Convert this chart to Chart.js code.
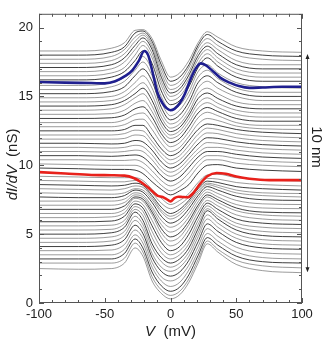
<!DOCTYPE html>
<html>
<head>
<meta charset="utf-8">
<script src="https://cdn.jsdelivr.net/npm/chart.js@4.4.1/dist/chart.umd.min.js"></script>
<style>
  html, body { margin: 0; padding: 0; background: #fff; }
  #wrap { width: 327px; height: 346px; }
</style>
</head>
<body>
<div id="wrap"><canvas id="didv" width="327" height="346"></canvas></div>
<script>
const grayV = [-100, -70, -45, -35, -27, -21, -14, -7, 0, 7, 14, 21, 28, 36, 50, 70, 100];

// grey spectra, top to bottom (nS)
const graySpectra = [
  [18.3,18.3,18.5,18.9,19.8,19.85,19.2,17.6,16.4,16.7,17.6,18.9,19.7,19.3,18.6,18.3,18.2],
  [18.0,18.0,18.2,18.6,19.6,19.75,19.0,17.3,16.1,16.4,17.3,18.7,19.5,19.0,18.3,18.0,17.9],
  [17.7,17.7,17.9,18.4,19.3,19.6,18.8,17.0,15.8,16.1,17.1,18.5,19.2,18.7,18.0,17.7,17.6],
  [17.4,17.4,17.6,18.1,19.0,19.45,18.6,16.7,15.5,15.8,16.8,18.2,18.9,18.4,17.6,17.3,17.3],
  [17.1,17.1,17.3,17.8,18.7,19.25,18.4,16.4,15.25,15.55,16.55,17.95,18.65,18.1,17.3,17.0,17.0],
  [16.8,16.8,17.0,17.5,18.4,19.0,18.1,16.1,15.0,15.3,16.3,17.7,18.4,17.8,17.0,16.7,16.7],
  [16.5,16.5,16.7,17.1,18.0,18.7,17.8,15.8,14.7,15.0,16.0,17.4,18.1,17.5,16.7,16.4,16.4],
  [16.2,16.2,16.4,16.8,17.6,18.3,17.4,15.4,14.4,14.7,15.7,17.1,17.8,17.2,16.4,16.1,16.1],
  [15.8,15.8,16.0,16.4,17.2,17.9,16.9,15.0,14.0,14.35,15.35,16.8,17.3,16.7,16.0,15.7,15.6],
  [15.5,15.5,15.7,16.1,16.9,17.5,16.5,14.6,13.6,14.0,15.0,16.4,16.9,16.3,15.6,15.3,15.3],
  [15.2,15.2,15.35,15.7,16.5,17.0,16.1,14.2,13.3,13.65,14.6,16.0,16.5,16.0,15.3,15.0,15.0],
  [14.9,14.9,15.0,15.35,16.0,16.5,15.6,13.85,13.0,13.3,14.25,15.6,16.1,15.6,15.0,14.7,14.7],
  [14.6,14.6,14.7,15.0,15.6,16.0,15.1,13.5,12.7,13.0,13.9,15.2,15.6,15.2,14.6,14.4,14.4],
  [14.3,14.3,14.4,14.7,15.2,15.6,14.7,13.2,12.45,12.75,13.65,14.85,15.25,14.85,14.3,14.1,14.1],
  [14.0,14.0,14.1,14.4,14.9,15.2,14.3,12.9,12.2,12.5,13.4,14.5,14.9,14.5,14.0,13.8,13.8],
  [13.7,13.7,13.75,14.0,14.5,14.7,13.9,12.6,11.95,12.25,13.1,14.15,14.55,14.2,13.7,13.5,13.5],
  [13.4,13.4,13.45,13.65,14.1,14.25,13.5,12.3,11.65,11.95,12.8,13.8,14.2,13.9,13.4,13.2,13.2],
  [13.1,13.1,13.1,13.3,13.7,13.8,13.1,12.0,11.35,11.65,12.45,13.45,13.85,13.6,13.1,12.9,12.9],
  [12.8,12.8,12.8,12.95,13.3,13.35,12.6,11.6,11.0,11.3,12.1,13.0,13.4,13.25,12.85,12.65,12.6],
  [12.5,12.5,12.5,12.6,12.9,12.9,12.1,11.2,10.7,11.0,11.8,12.6,13.0,12.9,12.6,12.4,12.3],
  [12.2,12.2,12.2,12.3,12.55,12.5,11.75,10.9,10.4,10.7,11.45,12.25,12.7,12.6,12.3,12.1,12.0],
  [11.9,11.9,11.9,11.95,12.2,12.15,11.45,10.6,10.1,10.4,11.1,11.9,12.35,12.3,12.0,11.8,11.7],
  [11.6,11.6,11.55,11.6,11.8,11.7,11.1,10.25,9.8,10.1,10.8,11.55,12.0,11.95,11.7,11.5,11.4],
  [11.3,11.3,11.25,11.3,11.45,11.35,10.75,9.9,9.5,9.8,10.5,11.2,11.65,11.6,11.4,11.2,11.1],
  [11.0,11.0,10.95,11.0,11.1,11.0,10.4,9.6,9.2,9.5,10.2,10.9,11.3,11.3,11.1,10.9,10.8],
  [10.7,10.7,10.65,10.7,10.75,10.6,10.0,9.25,8.85,9.15,9.85,10.6,11.0,11.0,10.8,10.6,10.5],
  [10.4,10.4,10.35,10.35,10.4,10.2,9.6,8.9,8.5,8.8,9.45,10.25,10.7,10.7,10.5,10.3,10.2],
  [10.1,10.05,10.0,10.0,10.0,9.8,9.2,8.55,8.15,8.45,9.05,9.9,10.4,10.4,10.15,10.0,9.9],
  [9.8,9.75,9.7,9.7,9.65,9.4,8.8,8.25,7.85,8.15,8.6,9.45,10.0,10.05,9.8,9.65,9.55],
  [9.2,9.15,9.1,9.1,9.1,8.9,8.25,7.6,7.15,7.45,7.95,8.75,9.3,9.35,9.1,8.95,8.85],
  [8.9,8.85,8.8,8.8,8.9,8.7,8.0,7.25,6.85,7.15,7.7,8.5,9.05,9.0,8.75,8.6,8.5],
  [8.6,8.55,8.5,8.55,8.7,8.55,7.8,6.95,6.5,6.8,7.45,8.3,8.85,8.75,8.45,8.3,8.2],
  [8.3,8.25,8.2,8.3,8.5,8.4,7.65,6.75,6.3,6.6,7.3,8.15,8.7,8.55,8.2,8.0,7.95],
  [8.0,7.95,7.9,8.0,8.3,8.2,7.5,6.6,6.1,6.4,7.1,8.0,8.6,8.4,8.0,7.8,7.7],
  [7.7,7.65,7.65,7.8,8.2,8.05,7.3,6.3,5.8,6.1,6.85,7.8,8.45,8.2,7.75,7.5,7.45],
  [7.4,7.4,7.4,7.55,8.0,7.85,7.0,6.0,5.5,5.8,6.55,7.6,8.25,7.95,7.45,7.2,7.15],
  [7.1,7.1,7.1,7.3,7.85,7.7,6.8,5.7,5.15,5.45,6.25,7.35,8.05,7.7,7.15,6.9,6.85],
  [6.8,6.8,6.8,7.05,7.7,7.55,6.6,5.4,4.8,5.1,5.95,7.1,7.85,7.5,6.9,6.6,6.55],
  [6.5,6.5,6.5,6.8,7.6,7.4,6.4,5.1,4.5,4.8,5.7,6.9,7.7,7.3,6.7,6.4,6.3],
  [6.2,6.2,6.25,6.55,7.4,7.15,6.0,4.75,4.15,4.45,5.35,6.6,7.45,7.05,6.4,6.1,6.0],
  [5.9,5.9,5.95,6.3,7.2,6.9,5.6,4.4,3.8,4.1,5.0,6.3,7.25,6.8,6.1,5.8,5.7],
  [5.6,5.6,5.65,6.0,7.0,6.65,5.2,4.0,3.5,3.8,4.6,6.0,7.05,6.55,5.8,5.5,5.4],
  [5.3,5.3,5.35,5.75,6.8,6.35,4.75,3.65,3.2,3.5,4.3,5.7,6.85,6.3,5.55,5.2,5.1],
  [5.0,5.0,5.1,5.5,6.6,6.0,4.3,3.3,2.9,3.2,4.0,5.4,6.7,6.1,5.3,4.9,4.8],
  [4.7,4.7,4.8,5.2,6.3,5.7,4.0,3.0,2.6,2.9,3.7,5.1,6.4,5.8,5.0,4.6,4.5],
  [4.4,4.4,4.5,4.9,6.0,5.4,3.6,2.6,2.3,2.6,3.4,4.8,6.1,5.5,4.7,4.3,4.2],
  [4.1,4.1,4.2,4.6,5.65,5.05,3.3,2.3,1.95,2.25,3.1,4.45,5.75,5.2,4.4,4.0,3.9],
  [3.8,3.8,3.85,4.25,5.3,4.7,2.95,1.9,1.6,1.9,2.75,4.1,5.4,4.85,4.05,3.65,3.55],
  [3.5,3.5,3.5,3.9,4.95,4.35,2.6,1.6,1.2,1.5,2.4,3.75,5.05,4.5,3.7,3.3,3.2],
  [3.2,3.2,3.2,3.6,4.65,4.0,2.25,1.25,0.85,1.15,2.05,3.45,4.75,4.2,3.4,3.0,2.9],
  [2.9,2.9,2.9,3.25,4.35,3.7,1.9,0.95,0.55,0.85,1.75,3.15,4.5,3.9,3.1,2.7,2.55],
  [2.5,2.45,2.5,2.9,4.0,3.4,1.6,0.7,0.3,0.6,1.5,2.9,4.3,3.7,2.8,2.35,2.2]
];

// highlighted spectra
const blueV = [-100,-80,-60,-50,-42,-35,-29,-24,-20,-17,-13,-10,-6,-3,0,3,7,11,15,19,23,27,32,38,45,52,60,70,85,100];
const blueG = [16.05,16.0,15.97,15.95,16.1,16.45,16.9,17.6,18.3,18.0,16.5,15.3,14.5,14.15,14.0,14.1,14.5,15.2,16.2,17.0,17.4,17.25,16.85,16.35,16.0,15.75,15.62,15.65,15.7,15.7];

const redV = [-100,-80,-60,-45,-35,-28,-22,-16,-10,-6,-3,0,3,6,9,13,17,22,28,35,42,50,60,75,100];
const redG = [9.5,9.4,9.3,9.28,9.25,9.08,8.75,8.3,7.8,7.7,7.55,7.38,7.62,7.72,7.7,7.68,7.95,8.6,9.2,9.44,9.38,9.18,9.02,8.92,8.92];

const xTicks = [-100, -50, 0, 50, 100];
const yTicks = [0, 5, 10, 15, 20];
const scaleBar = [18.0, 2.3]; // nS span of the "10 nm" arrow
const scaleBarLabel = '10 nm';

const pts = (xs, ys) => xs.map((v, i) => ({ x: v, y: ys[i] }));

const datasets = [
  { data: pts(blueV, blueG), borderColor: '#1f1f8f', borderWidth: 2.6 },
  { data: pts(redV, redG), borderColor: '#e8211b', borderWidth: 2.6 }
];
graySpectra.forEach((row, i) => {
  const dark = i % 3 === 1;
  datasets.push({
    data: pts(grayV, row),
    borderColor: dark ? 'rgba(30,30,30,0.85)' : 'rgba(95,95,95,0.7)',
    borderWidth: dark ? 1.0 : 0.9
  });
});
datasets.forEach(d => {
  d.showLine = true;
  d.pointRadius = 0;
  d.cubicInterpolationMode = 'monotone';
  d.fill = false;
});

const FONT = '"Liberation Sans", Arial, sans-serif';

// frame, inward ticks, axis titles and the scale arrow
const decor = {
  id: 'decor',
  afterDraw(chart) {
    const { ctx, chartArea: a, scales: { x, y } } = chart;
    ctx.save();
    ctx.strokeStyle = '#555';
    ctx.lineWidth = 1;
    ctx.strokeRect(a.left + 0.5, a.top + 0.5, a.right - a.left - 1, a.bottom - a.top - 1);

    ctx.beginPath();
    for (let v = -100; v <= 100; v += 10) {
      const px = Math.round(x.getPixelForValue(v)) + 0.5;
      const len = v % 50 === 0 ? 5 : 3;
      ctx.moveTo(px, a.bottom); ctx.lineTo(px, a.bottom - len);
      ctx.moveTo(px, a.top); ctx.lineTo(px, a.top + len);
    }
    for (let v = 0; v <= 21; v += 1) {
      const py = Math.round(y.getPixelForValue(v)) + 0.5;
      const len = v % 5 === 0 ? 5 : 3;
      ctx.moveTo(a.left, py); ctx.lineTo(a.left + len, py);
      ctx.moveTo(a.right, py); ctx.lineTo(a.right - len, py);
    }
    ctx.stroke();

    // axis titles
    ctx.fillStyle = '#222';
    ctx.textBaseline = 'middle';
    ctx.font = 'italic 15px ' + FONT;
    const vw = ctx.measureText('V').width;
    ctx.font = '15px ' + FONT;
    const uw = ctx.measureText('  (mV)').width;
    let sx = (a.left + a.right) / 2 - (vw + uw) / 2;
    ctx.font = 'italic 15px ' + FONT;
    ctx.fillText('V', sx, 332);
    ctx.font = '15px ' + FONT;
    ctx.fillText('  (mV)', sx + vw, 332);

    ctx.save();
    ctx.translate(13, (a.top + a.bottom) / 2 + 6);
    ctx.rotate(-Math.PI / 2);
    ctx.font = 'italic 15px ' + FONT;
    const dw = ctx.measureText('dI/dV').width;
    ctx.font = '15px ' + FONT;
    const nw = ctx.measureText('  (nS)').width;
    sx = -(dw + nw) / 2;
    ctx.font = 'italic 15px ' + FONT;
    ctx.fillText('dI/dV', sx, 0);
    ctx.font = '15px ' + FONT;
    ctx.fillText('  (nS)', sx + dw, 0);
    ctx.restore();

    // scale arrow on the right
    const ax = a.right + 5.5;
    const y1 = y.getPixelForValue(scaleBar[0]);
    const y2 = y.getPixelForValue(scaleBar[1]);
    ctx.strokeStyle = '#333';
    ctx.lineWidth = 0.8;
    ctx.beginPath();
    ctx.moveTo(ax, y1 + 2); ctx.lineTo(ax, y2 - 2);
    ctx.stroke();
    ctx.fillStyle = '#222';
    ctx.beginPath();
    ctx.moveTo(ax, y1 - 1); ctx.lineTo(ax - 2, y1 + 4); ctx.lineTo(ax + 2, y1 + 4); ctx.closePath();
    ctx.moveTo(ax, y2 + 1); ctx.lineTo(ax - 2, y2 - 4); ctx.lineTo(ax + 2, y2 - 4); ctx.closePath();
    ctx.fill();

    ctx.save();
    ctx.translate(a.right + 14, 147);
    ctx.rotate(Math.PI / 2);
    ctx.textAlign = 'center';
    ctx.font = '15px ' + FONT;
    ctx.fillText(scaleBarLabel, 0, 0);
    ctx.restore();

    ctx.restore();
  }
};

new Chart(document.getElementById('didv'), {
  type: 'scatter',
  data: { datasets },
  options: {
    responsive: false,
    animation: false,
    devicePixelRatio: 1,
    layout: { padding: { left: 0, right: 25, top: 0, bottom: 0 } },
    plugins: { legend: { display: false }, tooltip: { enabled: false } },
    scales: {
      x: {
        type: 'linear', min: -100, max: 100,
        afterFit: s => { s.height = 43; },
        afterBuildTicks: s => { s.ticks = xTicks.map(v => ({ value: v })); },
        grid: { display: false, drawTicks: false },
        border: { display: false },
        ticks: { padding: 4, color: '#222', font: { family: FONT, size: 13 }, maxRotation: 0 }
      },
      y: {
        type: 'linear', min: 0, max: 21,
        afterFit: s => { s.width = 39; },
        afterBuildTicks: s => { s.ticks = yTicks.map(v => ({ value: v })); },
        grid: { display: false, drawTicks: false },
        border: { display: false },
        ticks: { padding: 6, color: '#222', font: { family: FONT, size: 13 } }
      }
    }
  },
  plugins: [decor]
});
</script>
</body>
</html>
